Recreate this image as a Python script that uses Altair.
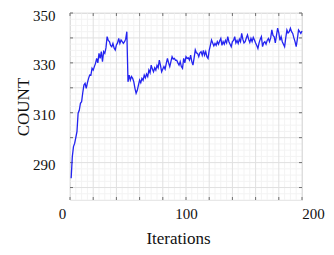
import altair as alt
import pandas as pd

iterations = list(range(1, 201))
counts = [
    283.7, 292.4, 296.4, 297.7, 300.0, 302.4, 309.8, 311.0, 313.8, 314.4,
    318.0, 321.1, 321.8, 319.8, 322.0, 323.8, 325.1, 325.0, 327.8, 327.1,
    328.5, 329.8, 331.8, 330.0, 333.8, 331.8, 334.5, 330.5, 334.5, 333.8,
    336.0, 340.5, 339.0, 338.5, 337.0, 336.5, 337.8, 336.0, 335.2, 337.2,
    338.0, 339.8, 337.8, 339.2, 338.5, 337.8, 338.5, 339.5, 342.5, 322.4,
    325.1, 323.1, 324.5, 323.8, 322.4, 319.8, 317.8, 319.0, 321.1, 323.1,
    322.0, 323.8, 323.0, 325.1, 324.0, 325.5, 324.5, 327.1, 326.0, 329.1,
    327.5, 326.4, 328.0, 327.1, 329.0, 328.0, 331.1, 329.0, 326.4, 327.5,
    328.5, 327.5, 329.8, 331.8, 330.0, 328.5, 330.5, 332.5, 331.5, 331.8,
    331.0, 331.1, 330.0, 329.1, 330.5, 328.5, 327.8, 331.8, 330.0, 332.5,
    331.8, 332.0, 331.1, 333.1, 330.5, 329.1, 332.0, 335.2, 334.0, 333.8,
    332.5, 334.0, 334.5, 333.0, 335.0, 333.1, 334.5, 332.5, 331.8, 335.0,
    337.0, 339.2, 338.0, 336.8, 337.8, 337.0, 338.5, 337.5, 338.8, 339.8,
    337.0, 338.5, 337.5, 339.0, 338.0, 340.5, 338.5, 337.5, 336.5, 338.5,
    339.0, 340.5, 338.0, 339.0, 337.8, 339.5, 338.5, 341.8, 339.5, 338.0,
    338.5, 340.0, 341.2, 339.5, 338.2, 339.8, 338.5, 340.2, 339.2, 338.0,
    337.0, 335.8, 338.0, 339.5, 340.5, 336.5, 338.0, 338.5, 337.5, 339.0,
    339.8, 338.5, 340.0, 343.2, 341.0, 340.5, 338.0, 341.0, 343.9, 342.0,
    339.0, 340.5, 338.5, 337.5, 336.5, 340.0, 343.2, 342.0, 342.5, 343.9,
    342.5, 341.8, 340.0, 338.5, 336.5, 339.5, 343.2, 342.5, 341.8, 342.8,
]
x_tick_labels = [0, 100, 200]
y_tick_labels = [290, 310, 330, 350]
x_major = list(range(0, 201, 20))
y_major = list(range(280, 351, 10))
x_minor = [v for v in range(0, 201, 5) if v % 20 != 0]
y_minor = [275 + 2.5 * i for i in range(31) if (275 + 2.5 * i) % 10 != 0]

W, H = 232, 187
FONT = "Liberation Serif"
xs = alt.Scale(domain=[0, 200], nice=False, zero=False)
ys = alt.Scale(domain=[275, 350], nice=False, zero=False)

xaxis = alt.Axis(
    title="Iterations", values=x_tick_labels, grid=False, ticks=False, domain=False,
    labelFont=FONT, labelFontSize=15, labelColor="#111111", labelBaseline="alphabetic",
    labelPadding=18, labelFlush=False,
    labelOffset={"expr": "datum.value == 0 ? -8 : datum.value == 200 ? 11 : 0"},
    titleFont=FONT, titleFontSize=17, titleFontWeight="normal", titleColor="#111111",
    titleX=108, titleY=43, titleBaseline="alphabetic", titleAlign="center")
yaxis = alt.Axis(
    title="COUNT", values=y_tick_labels, grid=False, ticks=False, domain=False,
    labelFont=FONT, labelFontSize=15, labelColor="#111111", labelPadding=15,
    labelOffset=2, labelFlush=False,
    titleFont=FONT, titleFontSize=17, titleFontWeight="normal", titleColor="#111111",
    titleX=-42, titleY=H / 2, titleBaseline="alphabetic", titleAlign="center")

df = pd.DataFrame({"it": iterations, "count": counts})

minor_x = alt.Chart(pd.DataFrame({"it": x_minor})).mark_rule(color="#f3f3f3", strokeWidth=1).encode(
    x=alt.X("it:Q", scale=xs, axis=xaxis))
minor_y = alt.Chart(pd.DataFrame({"count": y_minor})).mark_rule(color="#f3f3f3", strokeWidth=1).encode(
    y=alt.Y("count:Q", scale=ys, axis=yaxis))
major_x = alt.Chart(pd.DataFrame({"it": x_major})).mark_rule(color="#e0e0e0", strokeWidth=1).encode(
    x=alt.X("it:Q", scale=xs, axis=xaxis))
major_y = alt.Chart(pd.DataFrame({"count": y_major})).mark_rule(color="#e0e0e0", strokeWidth=1).encode(
    y=alt.Y("count:Q", scale=ys, axis=yaxis))

tick_col = "#707070"
tick_b = alt.Chart(pd.DataFrame({"it": x_major})).mark_rule(color=tick_col).encode(
    x=alt.X("it:Q", scale=xs, axis=xaxis), y=alt.value(H), y2=alt.value(H - 3))
tick_t = alt.Chart(pd.DataFrame({"it": x_major})).mark_rule(color=tick_col).encode(
    x=alt.X("it:Q", scale=xs, axis=xaxis), y=alt.value(0), y2=alt.value(3))
tick_r = alt.Chart(pd.DataFrame({"count": y_major})).mark_rule(color=tick_col).encode(
    y=alt.Y("count:Q", scale=ys, axis=yaxis), x=alt.value(W), x2=alt.value(W - 3))
tick_l = alt.Chart(pd.DataFrame({"count": y_major})).mark_rule(color=tick_col).encode(
    y=alt.Y("count:Q", scale=ys, axis=yaxis), x=alt.value(0), x2=alt.value(3))

line = alt.Chart(df).mark_line(color="#2323f0", strokeWidth=1.3).encode(
    x=alt.X("it:Q", scale=xs, axis=xaxis),
    y=alt.Y("count:Q", scale=ys, axis=yaxis),
)

chart = alt.layer(minor_x, minor_y, major_x, major_y, tick_b, tick_t, tick_r, tick_l, line).properties(
    width=W, height=H,
    autosize=alt.AutoSizeParams(type="none"),
    padding={"left": 62, "top": 5, "right": 24, "bottom": 55},
).configure_view(stroke="#808080", strokeWidth=1).configure(background="white")

chart.save("out.html", embed_options={"renderer": "svg", "actions": False})
